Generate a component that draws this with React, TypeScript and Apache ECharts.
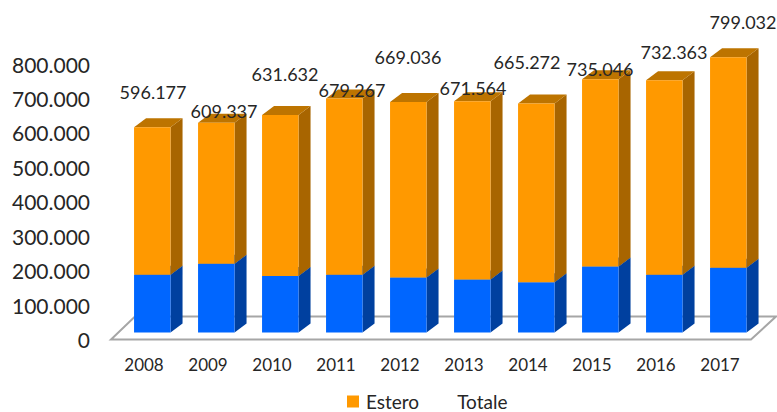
import React, { useEffect, useRef } from "react";
import * as echarts from "echarts";

const years = ["2008", "2009", "2010", "2011", "2012", "2013", "2014", "2015", "2016", "2017"];
const totals = [596177, 609337, 631632, 679267, 669036, 671564, 665272, 735046, 732363, 799032];
const lowerValues = [168000, 200000, 164000, 168000, 160000, 154000, 146000, 192000, 168000, 188000];
const axisTicks = { min: 0, max: 800000, interval: 100000 };

// Hand-placed label nudges for the totals, in pixels.
const labelShiftX = [9, 16, 13, 16, 8, 9, -1, 8, 18, 23];
const labelShiftY = [-33, -9, -38, -6, -43, -11, -39, -8, -26, -33];

const textColor = "#262626";
const font = "Lato";
const thousands = (v: number) => String(v).replace(/\B(?=(\d{3})+(?!\d))/g, ".");

// Extruded bars sit behind the axis plane, on the floor parallelogram.
const setback = { x: 8, y: -7 };
const depth = { x: 12, y: -9 };
const barWidth = 36.5;

const palette = {
  blue: { front: "#0066FF", side: "#00409F", top: "#0050C8" },
  orange: { front: "#FF9900", side: "#A86500", top: "#BD7400" },
};

function barSegment(shades: { front: string; side: string; top: string }) {
  return (_params: any, api: any) => {
    const [cx, yLow] = api.coord([api.value(0), api.value(1)]);
    const [, yHigh] = api.coord([api.value(0), api.value(2)]);
    const x0 = cx + setback.x - barWidth / 2 + 0.3;
    const x1 = x0 + barWidth;
    const y0 = yLow + setback.y;
    const y1 = yHigh + setback.y;
    return {
      type: "group",
      children: [
        {
          type: "polygon",
          shape: { points: [[x1, y0], [x1 + depth.x, y0 + depth.y], [x1 + depth.x, y1 + depth.y], [x1, y1]] },
          style: { fill: shades.side },
        },
        {
          type: "polygon",
          shape: { points: [[x0, y1], [x1, y1], [x1 + depth.x, y1 + depth.y], [x0 + depth.x, y1 + depth.y]] },
          style: { fill: shades.top },
        },
        { type: "rect", shape: { x: x0, y: y1, width: barWidth, height: y0 - y1 }, style: { fill: shades.front } },
      ],
    };
  };
}

function floorPlane(params: any) {
  const { x, y, width, height } = params.coordSys;
  const base = y + height;
  const slant = 24;
  return {
    type: "polygon",
    shape: {
      points: [[x - 1, base], [x + width - 1, base], [x + width + slant, base - slant + 1], [x + slant - 1, base - slant + 1]],
    },
    style: { fill: "#FFFFFF", stroke: "#A6A6A6", lineWidth: 2 },
  };
}

export default function App() {
  const ref = useRef<HTMLDivElement>(null);

  useEffect(() => {
    document.body.style.margin = "0";
    const chart = echarts.init(ref.current!, undefined, { renderer: "svg" });
    chart.setOption({
      animation: false,
      backgroundColor: "#FFFFFF",
      textStyle: { fontFamily: font },
      grid: { left: 112, right: 25, top: 64, bottom: 72.5 },
      legend: {
        left: 347,
        top: 392,
        padding: 0,
        itemWidth: 12,
        itemHeight: 12,
        itemGap: 19,
        icon: "rect",
        selectedMode: false,
        data: ["Estero", "Totale"],
        textStyle: { fontFamily: font, fontSize: 19, lineHeight: 18, color: textColor, padding: [0, 0, 0, 2] },
      },
      xAxis: {
        type: "category",
        data: years,
        axisLine: { show: false },
        axisTick: { show: false },
        axisLabel: { fontFamily: font, fontSize: 17, color: textColor, margin: 16 },
      },
      yAxis: {
        type: "value",
        ...axisTicks,
        axisLine: { show: false },
        axisTick: { show: false },
        splitLine: { show: false },
        axisLabel: { fontFamily: font, fontSize: 21, color: textColor, margin: 22, formatter: thousands },
      },
      series: [
        {
          type: "custom",
          silent: true,
          z: 1,
          data: [[0]],
          renderItem: floorPlane,
          encode: { x: 0 },
        },
        {
          type: "custom",
          name: "Lower",
          z: 2,
          itemStyle: { color: palette.blue.front },
          data: years.map((_, i) => [i, 0, lowerValues[i]]),
          encode: { x: 0, y: [1, 2] },
          renderItem: barSegment(palette.blue),
        },
        {
          type: "custom",
          name: "Estero",
          z: 2,
          itemStyle: { color: palette.orange.front },
          data: years.map((_, i) => [i, lowerValues[i], totals[i]]),
          encode: { x: 0, y: [1, 2] },
          renderItem: barSegment(palette.orange),
        },
        {
          // Invisible carrier for the total labels; only its texts are seen.
          type: "line",
          name: "Totale",
          z: 5,
          symbol: "circle",
          symbolSize: 1,
          showSymbol: true,
          showAllSymbol: true,
          itemStyle: { color: "rgba(0,0,0,0)" },
          lineStyle: { width: 0 },
          data: totals.map((value, i) => ({
            value,
            label: {
              show: true,
              position: "top",
              distance: 0,
              offset: [labelShiftX[i], labelShiftY[i]],
              fontFamily: font,
              fontSize: 18,
              color: textColor,
              formatter: (p: any) => thousands(p.value),
            },
          })),
        },
      ],
    });
    return () => chart.dispose();
  }, []);

  return <div ref={ref} style={{ position: "absolute", left: 0, top: 0, width: 777, height: 412 }} />;
}
